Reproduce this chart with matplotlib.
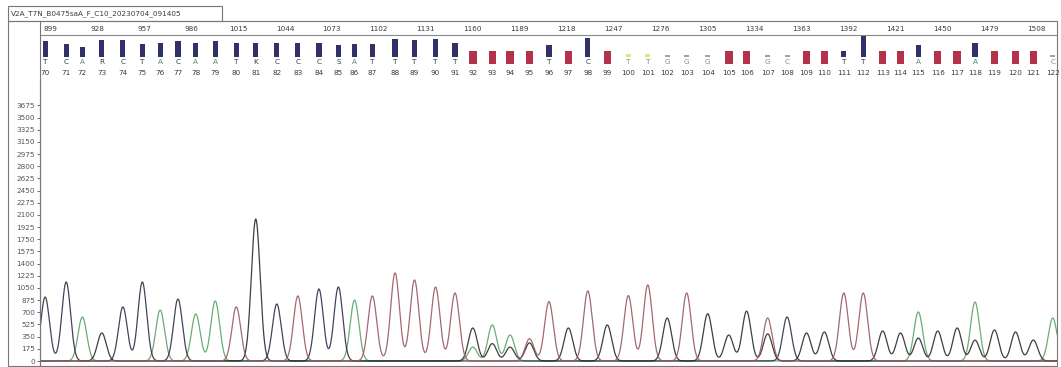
import numpy as np
import matplotlib
matplotlib.use("Agg")
import matplotlib.pyplot as plt
from matplotlib.patches import Rectangle

# ---------------- data ----------------
title = "V2A_T7N_B0475saA_F_C10_20230704_091405"
base_numbers = list(range(70, 123))
base_calls = list("TCARCTACAATKCCCSATTTTTNNNNTNCNTTGGGNNGCNNTTNNANNANNNC")
quality = [40, 32, 25, 42, 42, 32, 35, 40, 35, 40, 35, 35, 35, 35, 35, 30, 33, 33,
           45, 42, 45, 35, 0, 0, 0, 0, 30, 0, 48, 0, 8, 8, 4, 4, 4, 0, 0, 4, 4,
           0, 0, 14, 54, 0, 0, 30, 0, 0, 35, 0, 0, 0, 4]
peak_scan = [896, 909, 919, 931, 944, 956, 967, 978, 989, 1001, 1014, 1026, 1039,
             1052, 1065, 1077, 1087, 1098, 1112, 1124, 1137, 1149, 1160, 1172, 1183,
             1195, 1207, 1219, 1231, 1243, 1256, 1268, 1280, 1292, 1305, 1318, 1329,
             1342, 1354, 1366, 1377, 1389, 1401, 1413, 1424, 1435, 1447, 1459, 1470,
             1482, 1495, 1506, 1518]
peak_channel = list("CCAGCCACAATGCTCCATTTTTGAATTGTGTTGTGGGTCGGTTGGAGGAGGGA")
peak_height = [920, 1136, 633, 403, 777, 1136, 733, 891, 676, 863, 777, 2042, 820,
               935, 1035, 1064, 877, 935, 1266, 1165, 1064, 978, 475, 518, 374, 320,
               855, 475, 1007, 518, 940, 1093, 618, 978, 680, 374, 417, 618, 633, 403,
               417, 978, 978, 431, 403, 705, 431, 475, 849, 446, 417, 302, 618]
sec_index = [22, 23, 24, 25, 36, 37, 45, 48]
sec_channel = ["A", "G", "G", "G", "G", "G", "G", "G"]
sec_height = [200, 250, 200, 260, 300, 390, 330, 300]
ruler_scans = list(range(899, 1509, 29))
y_ticks = list(range(0, 3676, 175))

# ---------------- styles ----------------
W, H = 1061, 367
chan_color = {"A": "#5aa466", "C": "#2e3048", "G": "#2a2a2a", "T": "#9a5862"}
txt = "#3a3a3a"
fs = 5.2

fig = plt.figure(figsize=(W / 100, H / 100), dpi=100)
fig.patch.set_facecolor("white")


def px_axes(x0, y0, x1, y1):
    return fig.add_axes([x0 / W, 1 - y1 / H, (x1 - x0) / W, (y1 - y0) / H])


def px2scan(x):
    return 899 + (x - 50) / 1.62


xlim = (px2scan(40), px2scan(1057))
unit = 175 / 12.17  # data units per pixel


def py2val(y):
    return (361 - y) * unit


# ---------------- trace axes ----------------
ax = px_axes(40, 80, 1057, 365)
ax.set_xlim(*xlim)
ax.set_ylim(py2val(365), py2val(80))
xs = np.linspace(xlim[0], xlim[1], 4000)
sigma = 2.7
traces = {c: np.zeros_like(xs) for c in "ACGT"}
for s, c, h in zip(peak_scan, peak_channel, peak_height):
    traces[c] += h * np.exp(-0.5 * ((xs - s) / sigma) ** 2)
for i, c, h in zip(sec_index, sec_channel, sec_height):
    traces[c] += h * np.exp(-0.5 * ((xs - peak_scan[i]) / sigma) ** 2)
for c in "ACGT":
    ax.plot(xs, traces[c], color=chan_color[c], lw=0.9, alpha=0.9)
ax.set_yticks(y_ticks)
ax.set_yticklabels([str(v) for v in y_ticks], fontsize=fs, color=txt)
ax.set_xticks([])
ax.tick_params(axis="y", length=2, width=0.6, pad=1.5, colors="#555555")
for sp in ax.spines.values():
    sp.set_visible(False)
ax.spines["left"].set_visible(True)
ax.spines["left"].set_color("#666666")
ax.spines["left"].set_linewidth(0.8)

# ---------------- header axes ----------------
hx = px_axes(40, 21, 1057, 80)
hx.set_xlim(*xlim)
hx.set_ylim(80, 21)
hx.axis("off")
for s in ruler_scans:
    hx.text(s, 29, str(s), ha="center", va="center", fontsize=fs, color=txt)
hx.plot(xlim, [35, 35], color="#8a8a8a", lw=0.8)

for s, b, q, n in zip(peak_scan, base_calls, quality, base_numbers):
    if b == "N":
        hx.add_patch(Rectangle((s - 2.3, 51), 4.6, 13, color="#b2334a", lw=0))
    else:
        h = q * 0.4
        if q >= 12:
            col = "#2f3168"
        elif q >= 6:
            col = "#e8e27a"
        else:
            col = "#a0a0a0"
        hx.add_patch(Rectangle((s - 1.6, 57 - h), 3.2, h, color=col, lw=0))
        lc = "#4b8f55" if b == "A" else ("#8a8a8a" if q < 12 else txt)
        hx.text(s, 62, b, ha="center", va="center", fontsize=fs, color=lc)
    hx.text(s, 73, str(n), ha="center", va="center", fontsize=fs, color=txt)

# ---------------- frame and title ----------------
ov = fig.add_axes([0, 0, 1, 1])
ov.set_xlim(0, W)
ov.set_ylim(H, 0)
ov.axis("off")
ov.add_patch(Rectangle((8, 21), 1049, 345, fill=False, ec="#777777", lw=0.8))
ov.plot([40, 40], [21, 366], color="#777777", lw=0.8)
ov.add_patch(Rectangle((8, 6), 214, 15, fill=False, ec="#777777", lw=0.8))
ov.text(11, 13.5, title, ha="left", va="center", fontsize=fs, color=txt)

fig.savefig("out.png", dpi=100, facecolor="white")
